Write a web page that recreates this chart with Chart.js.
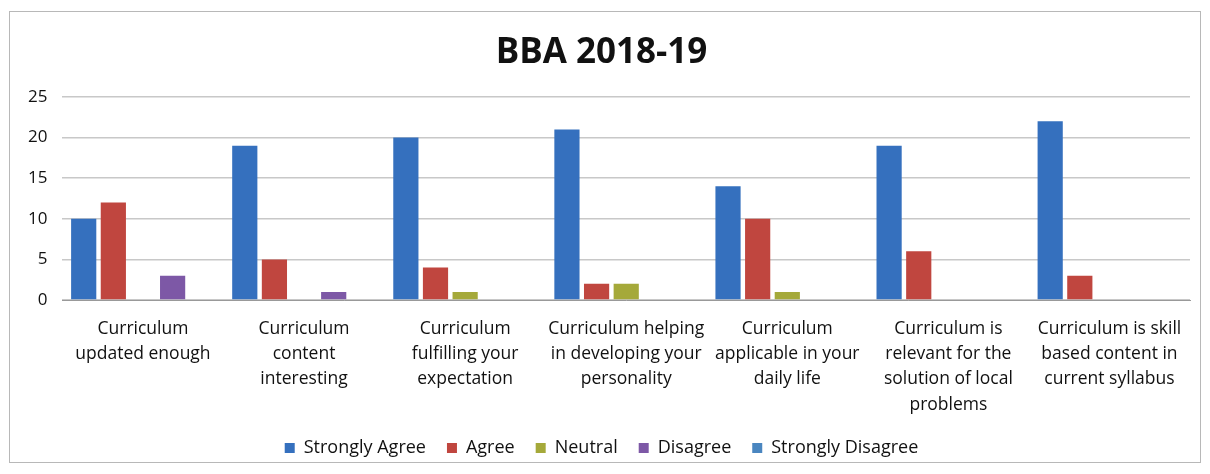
<!DOCTYPE html>
<html>
<head>
<meta charset="utf-8">
<script src="https://cdn.jsdelivr.net/npm/chart.js@4"></script>
<style>
  body { margin: 0; background: #fff; }
  #box { position: absolute; left: 9px; top: 11px; width: 1190px; height: 450px; border: 1px solid #b8b8b8; overflow: hidden; }
</style>
</head>
<body>
<div id="box"><canvas id="myChart"></canvas></div>
<script>
var categories = [
  ["Curriculum", "updated enough"],
  ["Curriculum", "content", "interesting"],
  ["Curriculum", "fulfilling your", "expectation"],
  ["Curriculum helping", "in developing your", "personality"],
  ["Curriculum", "applicable in your", "daily life"],
  ["Curriculum is", "relevant for the", "solution of local", "problems"],
  ["Curriculum is skill", "based content in", "current syllabus"]
];
var stronglyAgree = [10, 19, 20, 21, 14, 19, 22];
var agree = [12, 5, 4, 2, 10, 6, 3];
var neutral = [0, 0, 1, 2, 1, 0, 0];
var disagree = [3, 1, 0, 0, 0, 0, 0];
var stronglyDisagree = [0, 0, 0, 0, 0, 0, 0];
var yTicks = [0, 5, 10, 15, 20, 25];

function ds(label, data, color) {
  return { label: label, data: data, backgroundColor: color, borderWidth: 0 };
}

Chart.defaults.font.family = "'Open Sans', sans-serif";
Chart.defaults.color = "#111";

new Chart("myChart", {
  type: "bar",
  data: {
    labels: categories,
    datasets: [
      ds("Strongly Agree", stronglyAgree, "#3570be"),
      ds("Agree", agree, "#c0463f"),
      ds("Neutral", neutral, "#a5a93a"),
      ds("Disagree", disagree, "#7d58a6"),
      ds("Strongly Disagree", stronglyDisagree, "#4a86c0")
    ]
  },
  options: {
    responsive: true,
    maintainAspectRatio: false,
    animation: false,
    layout: { padding: { left: 3, right: 10, top: 8, bottom: -5 } },
    datasets: { bar: { categoryPercentage: 0.92, barPercentage: 0.85 } },
    plugins: {
      title: {
        display: true,
        text: "BBA 2018-19",
        font: { size: 35, weight: "bold" },
        color: "#111",
        padding: { top: 12, bottom: 23 }
      },
      legend: {
        position: "bottom",
        labels: { boxWidth: 10, boxHeight: 10, font: { size: 18 }, padding: 21 }
      },
      tooltip: { enabled: false }
    },
    scales: {
      x: {
        grid: { display: false, drawTicks: false },
        border: { color: "#999" },
        ticks: { font: { size: 17.5, lineHeight: 1.45 }, padding: 16, maxRotation: 0, autoSkip: false },
        afterFit: function (axis) { axis.height = 118; }
      },
      y: {
        min: 0,
        max: 25,
        afterBuildTicks: function (axis) { axis.ticks = yTicks.map(function (v) { return { value: v }; }); },
        grid: { color: "#c8c8c8", lineWidth: 1.5, drawTicks: false },
        border: { display: false },
        ticks: { font: { size: 17 }, padding: 15 }
      }
    }
  }
});
</script>
</body>
</html>
